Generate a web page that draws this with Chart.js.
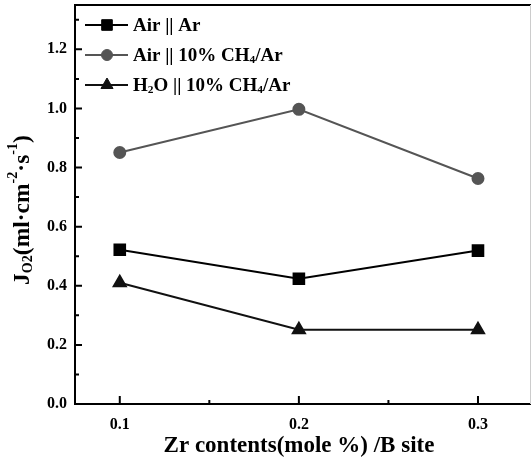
<!DOCTYPE html>
<html><head><meta charset="utf-8">
<script src="https://cdn.jsdelivr.net/npm/chart.js@4"></script>
<style>html,body{margin:0;padding:0;background:#fff}#wrap{width:532px;height:462px}</style>
</head><body><div id="wrap"><canvas id="c" width="532" height="462"></canvas></div>
<script>
const zrContents = [0.1, 0.2, 0.3];
const airAr = [0.522, 0.424, 0.519];
const airCH4 = [0.851, 0.997, 0.763];
const h2oCH4 = [0.410, 0.251, 0.251];
const seriesNames = ['Air || Ar', 'Air || 10% CH4/Ar', 'H2O || 10% CH4/Ar'];
const xTickLabels = ['0.1', '0.2', '0.3'];
const yTitle = 'J_O2(ml·cm^-2·s^-1)';
const xTitle = 'Zr contents(mole %) /B site';

const FONT = '"Liberation Serif", "Times New Roman", serif';

function pts(ys){ return zrContents.map((x,i)=>({x:x,y:ys[i]})); }

function richSegments(ctx, segs, size, x, y, measureOnly){
  let cx = x;
  for (const [t, m] of segs){
    let s = size, dy = 0;
    if (m==='sub'){ s = size*0.6; dy = size*0.22; }
    else if (m==='sup'){ s = size*0.6; dy = -size*0.42; }
    ctx.font = 'bold ' + s + 'px ' + FONT;
    if (!measureOnly) ctx.fillText(t, cx, y+dy);
    cx += ctx.measureText(t).width;
  }
  return cx - x;
}

const decor = {
  id:'decor',
  afterDraw(chart){
    const ctx = chart.ctx, a = chart.chartArea;
    const xs = chart.scales.x, ys = chart.scales.y;
    ctx.save();
    ctx.strokeStyle = '#000'; ctx.lineWidth = 2;
    ctx.beginPath();
    ctx.moveTo(a.left, a.top); ctx.lineTo(a.right, a.top);
    ctx.moveTo(a.left, a.top-1); ctx.lineTo(a.left, a.bottom+1);
    ctx.moveTo(a.left-1, a.bottom); ctx.lineTo(a.right, a.bottom);
    ctx.stroke();
    ctx.strokeStyle = '#ccc'; ctx.lineWidth = 1;
    ctx.beginPath(); ctx.moveTo(a.right-0.5, a.top); ctx.lineTo(a.right-0.5, a.bottom); ctx.stroke();
    ctx.strokeStyle = '#000'; ctx.lineWidth = 2;
    ctx.beginPath();
    ys.ticks.forEach(t=>{
      const p = ys.getPixelForValue(t.value);
      const major = Math.round(t.value*10)%2===0;
      const len = major?7:4;
      ctx.moveTo(a.left, p); ctx.lineTo(a.left+len, p);
    });
    xs.ticks.forEach(t=>{
      const p = xs.getPixelForValue(t.value);
      if (p < a.left+2 || p > a.right-2) return;
      const major = Math.round(t.value*100)%10===0;
      const len = major?8:4;
      ctx.moveTo(p, a.bottom); ctx.lineTo(p, a.bottom-len);
    });
    ctx.stroke();

    ctx.fillStyle = '#000'; ctx.textBaseline = 'middle'; ctx.textAlign = 'left';
    const rows = [
      {y:25, segs:[['Air || Ar','n']]},
      {y:55, segs:[['Air || 10% CH','n'],['4','sub'],['/Ar','n']]},
      {y:85, segs:[['H','n'],['2','sub'],['O || 10% CH','n'],['4','sub'],['/Ar','n']]}
    ];
    rows.forEach((r,i)=>{
      const ds = chart.data.datasets[i];
      ctx.strokeStyle = ds.borderColor; ctx.lineWidth = 2;
      ctx.beginPath(); ctx.moveTo(85, r.y); ctx.lineTo(128, r.y); ctx.stroke();
      ctx.fillStyle = ds.pointBackgroundColor; ctx.strokeStyle = ds.pointBackgroundColor; ctx.lineWidth = 1;
      Chart.helpers.drawPoint(ctx, {pointStyle: ds.pointStyle, radius: ds.pointRadius, borderWidth:1}, 107, r.y);
      ctx.fillStyle = '#000';
      richSegments(ctx, r.segs, 19, 133, r.y+1, false);
    });

    const ySegs = [['J','n'],['O2','sub'],['(ml·cm','n'],['-2','sup'],['·s','n'],['-1','sup'],[')','n']];
    ctx.save();
    ctx.translate(23, 210);
    ctx.rotate(-Math.PI/2);
    const w = richSegments(ctx, ySegs, 23.5, 0, 0, true);
    ctx.textBaseline = 'middle';
    richSegments(ctx, ySegs, 23.5, -w/2, 0, false);
    ctx.restore();

    ctx.font = 'bold 23px ' + FONT;
    ctx.textAlign = 'center'; ctx.textBaseline = 'middle';
    ctx.fillText(xTitle, 299, 446);
    ctx.restore();
  }
};

new Chart(document.getElementById('c'), {
  type:'line',
  data:{
    datasets:[
      {label:seriesNames[0], data:pts(airAr), borderColor:'#000', backgroundColor:'#000', pointBackgroundColor:'#000', pointBorderColor:'#000', pointStyle:'rect', pointRadius:7.5, borderWidth:2},
      {label:seriesNames[1], data:pts(airCH4), borderColor:'#555', backgroundColor:'#555', pointBackgroundColor:'#555', pointBorderColor:'#555', pointStyle:'circle', pointRadius:5.5, borderWidth:2},
      {label:seriesNames[2], data:pts(h2oCH4), borderColor:'#111', backgroundColor:'#111', pointBackgroundColor:'#111', pointBorderColor:'#111', pointStyle:'triangle', pointRadius:7, borderWidth:2}
    ]
  },
  options:{
    responsive:false, animation:false, devicePixelRatio:1,
    layout:{autoPadding:false, padding:{top:5, right:1, left:0, bottom:0}},
    plugins:{legend:{display:false}, tooltip:{enabled:false}},
    scales:{
      x:{type:'linear', min:0.075, max:0.3296,
        afterBuildTicks(s){ s.ticks = [0.1,0.15,0.2,0.25,0.3].map(v=>({value:v})); },
        afterFit(s){ s.height = 58; s.paddingLeft = 0; s.paddingRight = 0; },
        grid:{display:false, drawTicks:false}, border:{display:false},
        ticks:{padding:11, color:'#000', maxRotation:0, font:{family:FONT, size:16, weight:'bold'},
          callback(v){ const i = [0.1,0.2,0.3].findIndex(u=>Math.abs(u-v)<1e-6); return i>=0 ? xTickLabels[i] : ''; }}
      },
      y:{type:'linear', min:0, max:1.35,
        afterBuildTicks(s){ const t=[]; for(let i=0;i<=13;i++) t.push({value:i/10}); s.ticks=t; },
        afterFit(s){ s.width = 75; s.paddingTop = 0; s.paddingBottom = 0; },
        grid:{display:false, drawTicks:false}, border:{display:false},
        ticks:{padding:8, color:'#000', font:{family:FONT, size:16, weight:'bold'},
          callback(v){ return Math.round(v*10)%2===0 ? v.toFixed(1) : ''; }}
      }
    }
  },
  plugins:[decor]
});
</script></body></html>
